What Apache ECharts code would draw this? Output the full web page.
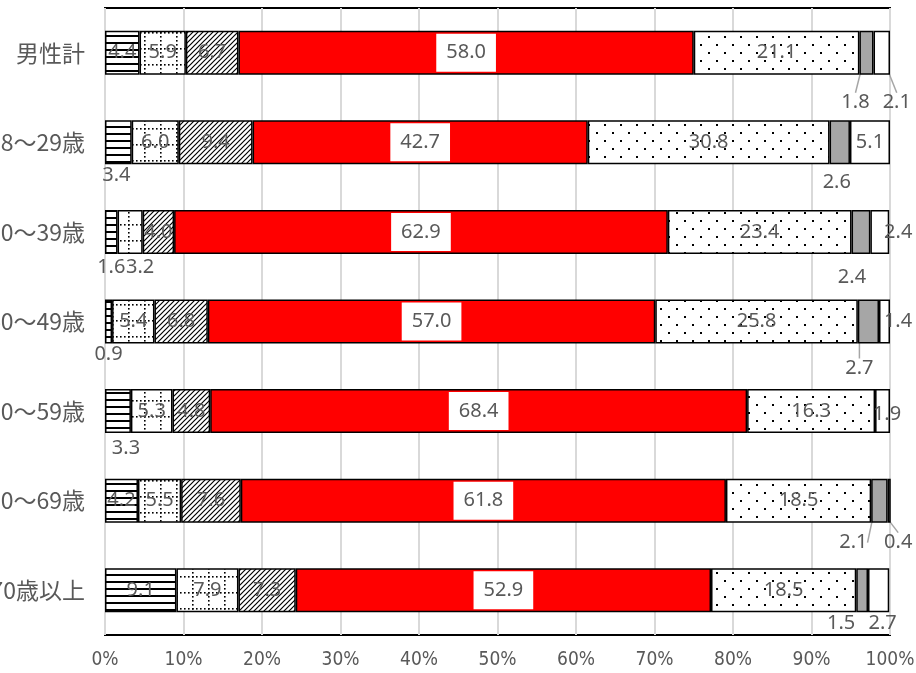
<!DOCTYPE html>
<html><head><meta charset="utf-8">
<script src="https://cdn.jsdelivr.net/npm/echarts@6/dist/echarts.min.js"></script>
<style>html,body{margin:0;padding:0;background:#fff}#c{width:916px;height:673px}</style>
</head><body><div id="c"></div>
<script>
const categories = ['男性計','18～29歳','30～39歳','40～49歳','50～59歳','60～69歳','70歳以上'];
const seriesA = [4.4,3.4,1.6,0.9,3.3,4.2,9.1];
const seriesB = [5.9,6.0,3.2,5.4,5.3,5.5,7.9];
const seriesC = [6.7,9.4,4.0,6.8,4.8,7.6,7.3];
const seriesD = [58.0,42.7,62.9,57.0,68.4,61.8,52.9];
const seriesE = [21.1,30.8,23.4,25.8,16.3,18.5,18.5];
const seriesF = [1.8,2.6,2.4,2.7,0,2.1,1.5];
const seriesG = [2.1,5.1,2.4,1.4,1.9,0.4,2.7];
const xTickLabels = ['0%','10%','20%','30%','40%','50%','60%','70%','80%','90%','100%'];

function tile(w,h,draw){const c=document.createElement('canvas');c.width=w;c.height=h;const g=c.getContext('2d');g.fillStyle='#fff';g.fillRect(0,0,w,h);g.fillStyle='#000';g.strokeStyle='#000';draw(g);return {image:c,repeat:'repeat'};}
const patLines = tile(8,7,g=>{g.fillRect(0,0,8,2);});
const patGrid = tile(16,16,g=>{for(let i=0;i<16;i+=4){g.fillRect(i,0,1.6,1.6);g.fillRect(0,i,1.6,1.6);}});
const patHatch = tile(5,5,g=>{g.lineWidth=1.2;g.beginPath();g.moveTo(0,5);g.lineTo(5,0);g.moveTo(-1,1);g.lineTo(1,-1);g.moveTo(4,6);g.lineTo(6,4);g.stroke();});
const patDots = tile(16,16,g=>{g.fillRect(4,4,2,2);g.fillRect(12,12,2,2);});

// label placement tweaks: [seriesIndex, dataIndex] -> anchor & offset
const labelMoves = {
 '0,1':{a:'below',dx:-2,dy:11}, '0,2':{a:'below',dx:0,dy:13}, '0,3':{a:'below',dx:0,dy:11}, '0,4':{a:'below',dx:8,dy:15},
 '1,2':{a:'below',dx:10,dy:13},
 '5,0':{a:'below',dx:-11,dy:28,line:true}, '5,1':{a:'below',dx:-3,dy:18}, '5,2':{a:'below',dx:-9,dy:23},
 '5,3':{a:'below',dx:-9,dy:25,line:true}, '5,5':{a:'below',dx:-26,dy:20,line:true}, '5,6':{a:'below',dx:-21,dy:11},
 '6,0':{a:'below',dx:15,dy:28,line:true}, '6,2':{a:'right',dx:9,dy:0}, '6,3':{a:'right',dx:8,dy:0},
 '6,4':{a:'right',dx:-3,dy:3}, '6,5':{a:'below',dx:9,dy:20,line:true}, '6,6':{a:'below',dx:4,dy:11}
};

const txt = '#595959';
const numFont = '"Noto Sans", "DejaVu Sans", sans-serif';
const fills = [patLines, patGrid, patHatch, '#ff0000', patDots, '#a6a6a6', '#ffffff'];
const allData = [seriesA, seriesB, seriesC, seriesD, seriesE, seriesF, seriesG];

const series = allData.map((arr, si) => ({
  type:'bar', name:'s'+(si+1), stack:'total', barWidth:44,
  itemStyle:{color:fills[si], borderColor:'#000', borderWidth:1.5},
  label:{show:true, position:'inside', color:txt, fontSize:20, fontFamily:numFont,
    formatter:p => p.value ? p.value.toFixed(1) : '',
    ...(si===3 ? {backgroundColor:'#fff', padding:[8,10], lineHeight:22} : {})},
  labelLine:{show:false, lineStyle:{color:'#a6a6a6', width:1.5}},
  labelLayout: p => {
    const m = labelMoves[si+','+p.dataIndex];
    if (!m) return {};
    const r = p.rect;
    if (m.a === 'below') return {x:r.x + r.width/2 + m.dx, y:r.y + r.height + m.dy, align:'center', verticalAlign:'middle'};
    return {x:r.x + r.width + m.dx, y:r.y + r.height/2 + m.dy, align:'center', verticalAlign:'middle'};
  },
  data: arr.map((v, di) => labelMoves[si+','+di] && labelMoves[si+','+di].line
      ? {value:v, labelLine:{show:true, lineStyle:{color:'#a6a6a6', width:1.5}}} : v)
}));

const chart = echarts.init(document.getElementById('c'), null, {renderer:'canvas'});
chart.setOption({
  animation:false,
  grid:{left:105, right:26, top:8, bottom:38, show:true, borderColor:'#000', borderWidth:2,
    containLabel:false, outerBoundsMode:'none'},
  xAxis:{type:'value', min:0, max:100, interval:10,
    axisLine:{show:false}, axisTick:{show:false},
    splitLine:{show:true, lineStyle:{color:'#d9d9d9', width:2}},
    axisLabel:{color:txt, fontSize:19, margin:16, fontFamily:'"Liberation Sans Narrow", "DejaVu Sans Condensed", sans-serif',
      formatter:v => xTickLabels[Math.round(v/10)]}},
  yAxis:{type:'category', data:categories, inverse:true,
    axisLine:{show:false}, axisTick:{show:false},
    axisLabel:{color:txt, fontSize:23, margin:20, fontFamily:'"Noto Sans CJK JP", sans-serif'}},
  series
});
</script></body></html>
